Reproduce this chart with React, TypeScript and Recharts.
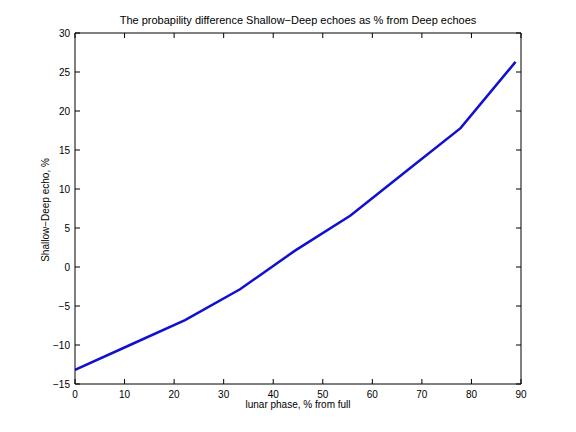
import React from "react"
import { LineChart, Line, XAxis, YAxis } from "recharts"

// lunar phase (% from full) and Shallow-Deep difference (% of Deep)
const phase = [0, 11.1, 22.2, 33.3, 44.4, 55.6, 66.7, 77.8, 88.9]
const diff = [-13.2, -10.0, -6.8, -2.85, 2.1, 6.6, 12.2, 17.8, 26.3]

const xTicks = [0, 10, 20, 30, 40, 50, 60, 70, 80, 90]
const yTicks = [-15, -10, -5, 0, 5, 10, 15, 20, 25, 30]

const title = "The probapility difference Shallow\u2212Deep echoes as % from Deep echoes"
const xLabel = "lunar phase, % from full"
const yLabel = "Shallow\u2212Deep echo, %"

const data = phase.map((p, i) => ({ phase: p, diff: diff[i] }))

const font = "'Liberation Sans', Arial, Helvetica, sans-serif"
const fmt = (v: number) => (v < 0 ? `\u2212${Math.abs(v)}` : `${v}`)

function BottomTick(props: any) {
  const { x, y, payload } = props
  return (
    <g>
      <line x1={x} y1={y} x2={x} y2={y - 5} stroke="#000" />
      <text x={x} y={y + 14} textAnchor="middle" fontSize={10} fontFamily={font} fill="#000">
        {fmt(payload.value)}
      </text>
    </g>
  )
}

function LeftTick(props: any) {
  const { x, y, payload } = props
  return (
    <g>
      <line x1={x} y1={y} x2={x + 5} y2={y} stroke="#000" />
      <text x={x - 5} y={y + 3.5} textAnchor="end" fontSize={10} fontFamily={font} fill="#000">
        {fmt(payload.value)}
      </text>
    </g>
  )
}

function TopTick(props: any) {
  const { x, y } = props
  return <line x1={x} y1={y} x2={x} y2={y + 5} stroke="#000" />
}

function RightTick(props: any) {
  const { x, y } = props
  return <line x1={x} y1={y} x2={x - 5} y2={y} stroke="#000" />
}

export default function App() {
  return (
    <div style={{ position: "absolute", left: 0, top: 0, width: 576, height: 432, background: "#fff" }}>
      <LineChart width={576} height={432} data={data} margin={{ top: 32, right: 54, bottom: 18, left: 0 }}>
        <XAxis
          xAxisId="bottom"
          dataKey="phase"
          type="number"
          domain={[0, 90]}
          ticks={xTicks}
          allowDataOverflow
          height={30}
          tickSize={0}
          tickMargin={0}
          tickLine={false}
          tick={<BottomTick />}
          axisLine={{ stroke: "#000" }}
        />
        <XAxis
          xAxisId="top"
          orientation="top"
          dataKey="phase"
          type="number"
          domain={[0, 90]}
          ticks={xTicks}
          allowDataOverflow
          height={1}
          tickSize={0}
          tickMargin={0}
          tickLine={false}
          tick={<TopTick />}
          axisLine={{ stroke: "#000" }}
        />
        <YAxis
          yAxisId="left"
          type="number"
          domain={[-15, 30]}
          ticks={yTicks}
          allowDataOverflow
          width={75}
          tickSize={0}
          tickMargin={0}
          tickLine={false}
          tick={<LeftTick />}
          axisLine={{ stroke: "#000" }}
        />
        <YAxis
          yAxisId="right"
          orientation="right"
          type="number"
          domain={[-15, 30]}
          ticks={yTicks}
          allowDataOverflow
          width={1}
          tickSize={0}
          tickMargin={0}
          tickLine={false}
          tick={<RightTick />}
          axisLine={{ stroke: "#000" }}
        />
        <Line
          xAxisId="bottom"
          yAxisId="left"
          dataKey="diff"
          type="linear"
          stroke="#1010d0"
          strokeWidth={2.5}
          dot={false}
          isAnimationActive={false}
        />
      </LineChart>
      <svg width={576} height={432} style={{ position: "absolute", left: 0, top: 0, pointerEvents: "none" }}>
        <text x={298} y={24} textAnchor="middle" fontSize={11} fontFamily={font} fill="#000">
          {title}
        </text>
        <text x={298} y={408} textAnchor="middle" fontSize={10} fontFamily={font} fill="#000">
          {xLabel}
        </text>
        <text
          x={49}
          y={210}
          textAnchor="middle"
          fontSize={10}
          fontFamily={font}
          fill="#000"
          transform="rotate(-90, 49, 210)"
        >
          {yLabel}
        </text>
      </svg>
    </div>
  )
}
